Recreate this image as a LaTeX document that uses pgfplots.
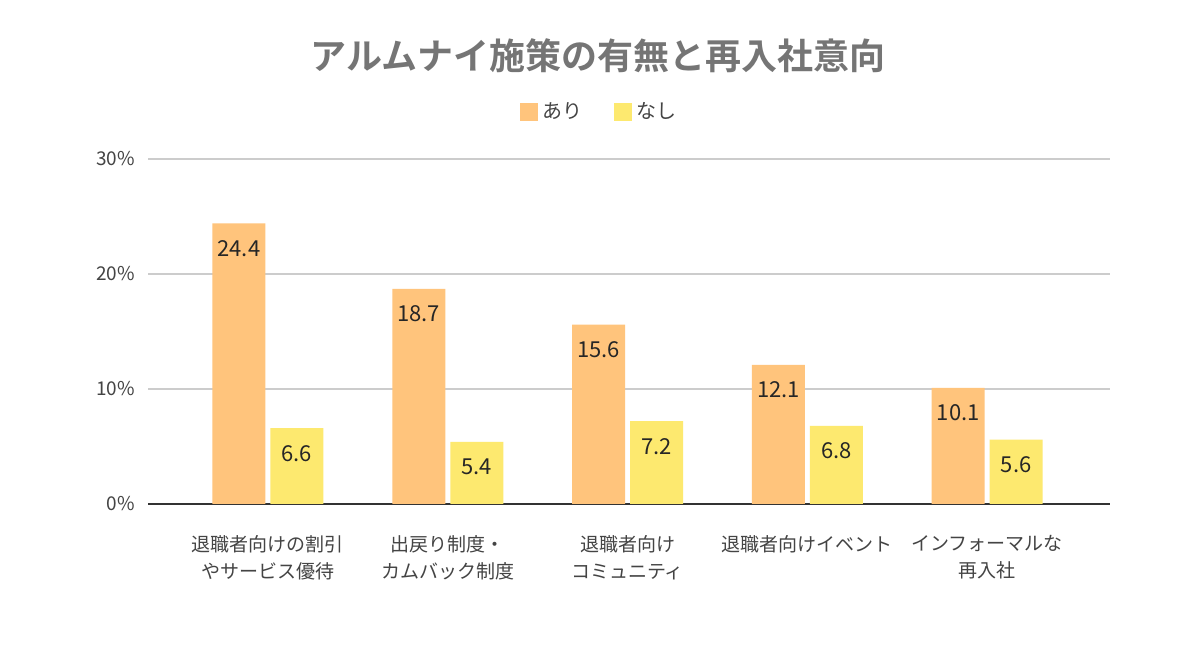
\documentclass[border=0pt]{standalone}
\usepackage{pgfplots}
\pgfplotsset{compat=1.18}
\usepackage{fontspec}
\setmainfont{Noto Sans CJK JP}[BoldFont={Noto Sans CJK JP Bold}]
\definecolor{ari}{HTML}{FFC47C}
\definecolor{nashi}{HTML}{FDE96F}
\definecolor{titlegray}{HTML}{757575}
\definecolor{ticktext}{HTML}{444444}
\definecolor{gridc}{HTML}{CCCCCC}
\definecolor{axisc}{HTML}{333333}
\begin{document}
\begin{tikzpicture}[x=1pt,y=1pt]
\path[use as bounding box, fill=white] (0,0) rectangle (600,336);
\begin{axis}[
  at={(74pt,84pt)}, anchor=south west,
  scale only axis, width=481pt, height=172.5pt,
  xmin=-0.667, xmax=4.683, ymin=0, ymax=30,
  ybar=2.5pt, bar width=26.5pt,
  axis lines*=left,
  y axis line style={draw=none},
  x axis line style={draw=axisc, line width=0.8pt},
  major tick length=0pt,
  ymajorgrids, grid style={gridc, line width=0.6pt},
  ytick={0,10,20,30},
  yticklabels={0\%,10\%,20\%,30\%},
  yticklabel style={text=ticktext, font=\fontsize{9.5}{11}\selectfont, xshift=-3pt},
  xtick={0,1,2,3,4},
  xticklabels={{退職者向けの割引\\やサービス優待},{出戻り制度・\\カムバック制度},{退職者向け\\コミュニティ},{退職者向けイベント},{インフォーマルな\\再入社}},
  xticklabel style={align=center, text=ticktext, font=\fontsize{9.5}{13.5}\selectfont, yshift=-12pt},
  /pgf/number format/assume math mode=true,
  nodes near coords={\pgfmathprintnumber[fixed,fixed zerofill,precision=1]{\pgfplotspointmeta}},
  nodes near coords style={anchor=north, yshift=-5pt, text=black!85, font=\fontsize{11}{13}\selectfont},
  title={アルムナイ施策の有無と再入社意向},
  title style={at={(0.468,1.265)}, anchor=center, font=\bfseries\fontsize{18}{20}\selectfont, text=titlegray},
  legend style={at={(0.47,1.136)}, anchor=center, draw=none, fill=none, legend columns=2,
    font=\fontsize{10}{12}\selectfont, text=ticktext,
    /tikz/every even column/.append style={column sep=14pt}},
  legend image code/.code={\fill[#1] (0pt,-4.5pt) rectangle (9pt,4.5pt);},
]
\addplot[fill=ari, draw=none] coordinates {(0,24.4) (1,18.7) (2,15.6) (3,12.1) (4,10.1)};
\addplot[fill=nashi, draw=none] coordinates {(0,6.6) (1,5.4) (2,7.2) (3,6.8) (4,5.6)};
\legend{あり,なし}
\end{axis}
\end{tikzpicture}
\end{document}
